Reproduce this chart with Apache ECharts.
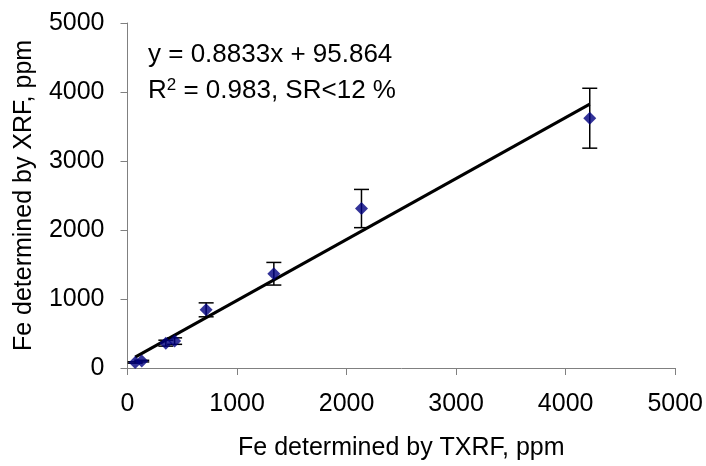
<!DOCTYPE html>
<html><head><meta charset="utf-8">
<script src="https://cdn.jsdelivr.net/npm/echarts@6/dist/echarts.min.js"></script>
<style>html,body{margin:0;padding:0;background:#fff}#c{width:706px;height:466px}</style>
</head><body><div id="c"></div>
<script>
const txrf = [70, 130, 350, 430, 718, 1336, 2136, 4220];
const xrf  = [80, 100, 360, 390, 843, 1366, 2311, 3620];
const errs = [10, 12, 43, 47, 101, 164, 277, 434];
const trendX = [70, 4220];
const trendY = [158, 3824];
const xTicks = [0, 1000, 2000, 3000, 4000, 5000];
const yTicks = [0, 1000, 2000, 3000, 4000, 5000];
const eqLine1 = 'y = 0.8833x + 95.864';
const eqLine2 = 'R{s|2} = 0.983, SR<12 %';

const font = 'Liberation Sans, Arial, sans-serif';
const FS = 25;
const EQ = 26;
const chart = echarts.init(document.getElementById('c'));
const pts = txrf.map((x, i) => [x, xrf[i]]);
const errData = txrf.map((x, i) => [x, xrf[i] - errs[i], xrf[i] + errs[i]]);
chart.setOption({
  animation: false,
  grid: {left: 127.5, right: 29, top: 23, bottom: 97.5},
  xAxis: {
    type: 'value', min: xTicks[0], max: xTicks[xTicks.length-1], interval: 1000,
    name: 'Fe determined by TXRF, ppm', nameLocation: 'middle', nameGap: 68,
    nameTextStyle: {fontFamily: font, fontSize: FS, color: '#000'},
    axisLine: {lineStyle: {color: '#808080', width: 1}},
    axisTick: {show: true, length: 7, lineStyle: {color: '#808080'}},
    axisLabel: {fontFamily: font, fontSize: FS, color: '#000', margin: 24, formatter: v => String(v)},
    splitLine: {show: false}
  },
  yAxis: {
    type: 'value', min: yTicks[0], max: yTicks[yTicks.length-1], interval: 1000,
    name: 'Fe determined by XRF, ppm', nameLocation: 'middle', nameGap: 91,
    nameTextStyle: {fontFamily: font, fontSize: FS, color: '#000'},
    axisLine: {show: true, lineStyle: {color: '#808080', width: 1}},
    axisTick: {show: true, length: 7, lineStyle: {color: '#808080'}},
    axisLabel: {fontFamily: font, fontSize: FS, color: '#000', margin: 23, formatter: v => String(v)},
    splitLine: {show: false}
  },
  series: [
    {
      type: 'line', data: trendX.map((x, i) => [x, trendY[i]]), symbol: 'none',
      lineStyle: {color: '#000', width: 3}, z: 3
    },
    {
      type: 'custom', data: errData, z: 2,
      renderItem: function (params, api) {
        const x = api.value(0);
        const lo = api.coord([x, api.value(1)]);
        const hi = api.coord([x, api.value(2)]);
        const hw = 7.5;
        const st = {stroke: '#000', lineWidth: 1.5};
        return {type: 'group', children: [
          {type: 'line', shape: {x1: lo[0], y1: lo[1], x2: hi[0], y2: hi[1]}, style: st},
          {type: 'line', shape: {x1: lo[0]-hw, y1: lo[1], x2: lo[0]+hw, y2: lo[1]}, style: st},
          {type: 'line', shape: {x1: hi[0]-hw, y1: hi[1], x2: hi[0]+hw, y2: hi[1]}, style: st}
        ]};
      }
    },
    {
      type: 'scatter', data: pts, symbol: 'diamond', symbolSize: 13,
      itemStyle: {color: '#000080'}, z: 4
    }
  ],
  graphic: [
    {type: 'text', left: 148, top: 42, style: {text: eqLine1, font: EQ + 'px ' + font, fill: '#000'}},
    {type: 'text', left: 148, top: 77, style: {text: eqLine2, font: EQ + 'px ' + font, fill: '#000',
      rich: {s: {fontSize: 17, fontFamily: font, verticalAlign: 'top', padding: [0,0,10,0]}}}}
  ]
});
</script></body></html>
